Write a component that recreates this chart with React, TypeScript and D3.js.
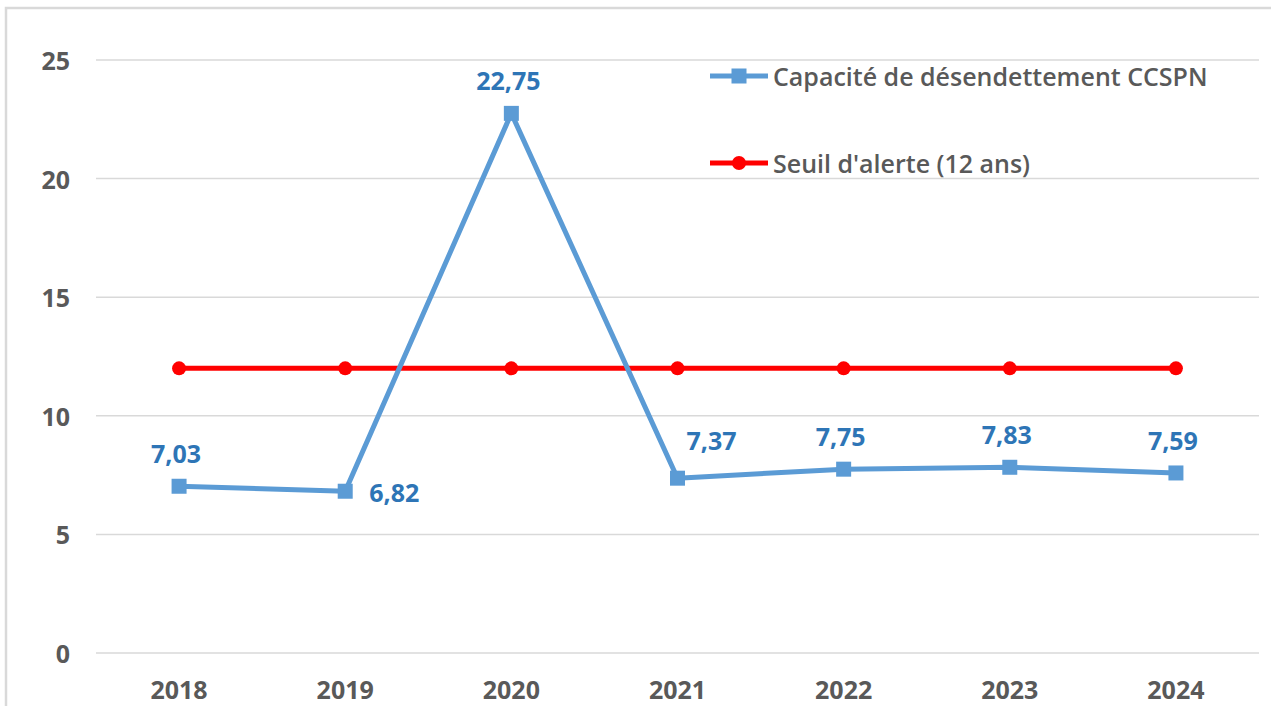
import React from 'react';
import * as d3 from 'd3';

// values
const years = ['2018', '2019', '2020', '2021', '2022', '2023', '2024'];
const capacite = [7.03, 6.82, 22.75, 7.37, 7.75, 7.83, 7.59];
const seuil = [12, 12, 12, 12, 12, 12, 12];
const yTicks = [0, 5, 10, 15, 20, 25];
const seriesNames = ['Capacité de désendettement CCSPN', "Seuil d'alerte (12 ans)"];

// where each data label sits relative to its point
const labelPlacement = ['above', 'right', 'above', 'aboveRight', 'above', 'above', 'above'];

const W = 1271;
const H = 706;
const BLUE = '#5B9BD5';
const LABEL_BLUE = '#2E75B6';
const RED = '#FF0000';
const GREY_TEXT = '#595959';
const GRID = '#D9D9D9';
const FONT = '"Open Sans", Calibri, sans-serif';
const FS = 25;

const fmt = (v: number) => v.toFixed(2).replace('.', ',');

export default function App() {
  const x = d3.scaleBand<string>().domain(years).range([96, 1259]).paddingInner(0).paddingOuter(0);
  const cx = (d: string) => (x(d) ?? 0) + x.bandwidth() / 2;
  const y = d3.scaleLinear().domain([0, 25]).range([653, 60]);

  const line = d3
    .line<number>()
    .x((_, i) => cx(years[i]))
    .y((d) => y(d));

  const labelPos = (i: number) => {
    const px = cx(years[i]);
    const py = y(capacite[i]);
    switch (labelPlacement[i]) {
      case 'right':
        return { x: px + 49, y: py + 1 };
      case 'aboveRight':
        return { x: px + 34, y: py - 38 };
      default:
        return { x: px - 3, y: py - 33 };
    }
  };

  return (
    <div style={{ position: 'fixed', left: 0, top: 0, width: W, height: H, background: '#fff' }}>
      <svg width={W} height={H} style={{ display: 'block', fontFamily: FONT }}>
        <rect x={0} y={0} width={W} height={H} fill="#fff" />
        {/* chart frame */}
        <rect x={6} y={8} width={W + 20} height={H + 20} fill="none" stroke={GRID} strokeWidth={2.5} />

        {/* gridlines + y ticks */}
        {yTicks.map((t) => (
          <g key={t}>
            <line x1={96} x2={1259} y1={y(t)} y2={y(t)} stroke={GRID} strokeWidth={1.5} />
            <text
              x={70}
              y={y(t)}
              textAnchor="end"
              dominantBaseline="central"
              fontSize={FS}
              fontWeight={700}
              fill={GREY_TEXT}
            >
              {t}
            </text>
          </g>
        ))}

        {/* x labels */}
        {years.map((yr) => (
          <text
            key={yr}
            x={cx(yr)}
            y={689}
            textAnchor="middle"
            dominantBaseline="central"
            fontSize={FS}
            fontWeight={700}
            fill={GREY_TEXT}
          >
            {yr}
          </text>
        ))}

        {/* seuil line */}
        <path d={line(seuil) ?? ''} fill="none" stroke={RED} strokeWidth={5} />
        {seuil.map((v, i) => (
          <circle key={i} cx={cx(years[i])} cy={y(v)} r={7} fill={RED} />
        ))}

        {/* capacite line */}
        <path d={line(capacite) ?? ''} fill="none" stroke={BLUE} strokeWidth={5} strokeLinejoin="round" />
        {capacite.map((v, i) => (
          <rect key={i} x={cx(years[i]) - 7.5} y={y(v) - 7.5} width={15} height={15} fill={BLUE} />
        ))}

        {/* data labels */}
        {capacite.map((v, i) => {
          const p = labelPos(i);
          return (
            <text
              key={i}
              x={p.x}
              y={p.y}
              textAnchor="middle"
              dominantBaseline="central"
              fontSize={FS}
              fontWeight={700}
              fill={LABEL_BLUE}
            >
              {fmt(v)}
            </text>
          );
        })}

        {/* legend */}
        <g transform="translate(710,76)">
          <line x1={0} x2={58} y1={0} y2={0} stroke={BLUE} strokeWidth={5} />
          <rect x={29 - 7.5} y={-7.5} width={15} height={15} fill={BLUE} />
          <text x={63} y={0} dominantBaseline="central" fontSize={FS} fontWeight={600} fill={GREY_TEXT}>
            {seriesNames[0]}
          </text>
        </g>
        <g transform="translate(710,163)">
          <line x1={0} x2={58} y1={0} y2={0} stroke={RED} strokeWidth={5} />
          <circle cx={29} cy={0} r={7} fill={RED} />
          <text x={63} y={0} dominantBaseline="central" fontSize={FS} fontWeight={600} fill={GREY_TEXT}>
            {seriesNames[1]}
          </text>
        </g>
      </svg>
    </div>
  );
}
